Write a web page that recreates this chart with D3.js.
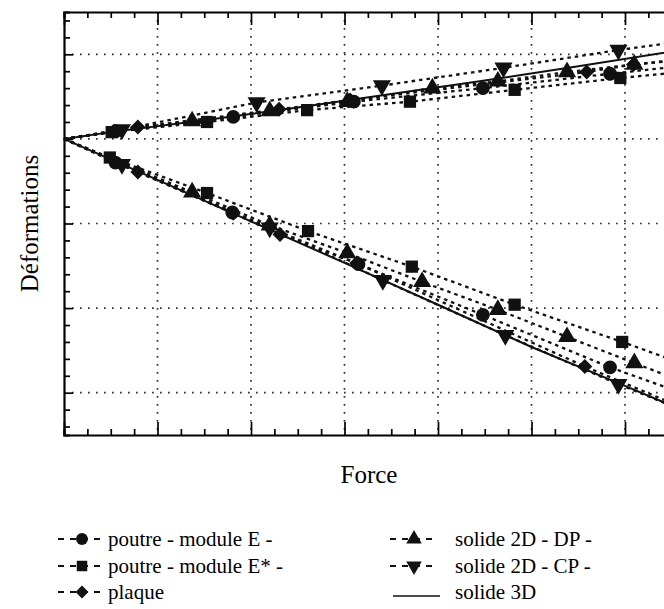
<!DOCTYPE html>
<html>
<head>
<meta charset="utf-8">
<script src="https://cdn.jsdelivr.net/npm/d3@7"></script>
<style>
  body { margin: 0; background: #fff; }
  svg { display: block; }
</style>
</head>
<body>
<svg></svg>
<script>
const width = 664;
const height = 609;

// [force, deformation] - upper branch (haut) and lower branch (bas)
const poutreE_haut = [[0,0],[0.55,0.09],[1.81,0.26],[3.1,0.44],[4.48,0.6],[5.84,0.77],[6.6,0.86]];
const poutreE_bas  = [[0,0],[0.55,-0.28],[1.8,-0.87],[3.15,-1.48],[4.48,-2.08],[5.84,-2.7],[6.6,-3.0]];

const poutreEs_haut = [[0,0],[0.51,0.08],[1.53,0.2],[2.6,0.34],[3.7,0.44],[4.82,0.58],[5.95,0.72],[6.6,0.79]];
const poutreEs_bas  = [[0,0],[0.49,-0.22],[1.53,-0.64],[2.61,-1.09],[3.72,-1.51],[4.82,-1.96],[5.97,-2.4],[6.6,-2.65]];

const plaque_haut = [[0,0],[0.79,0.14],[2.3,0.35],[3.06,0.46],[5.59,0.79],[6.09,0.88],[6.6,0.94]];
const plaque_bas  = [[0,0],[0.79,-0.39],[1.81,-0.88],[2.31,-1.13],[3.13,-1.47],[5.57,-2.69],[6.6,-3.17]];

const dp_haut = [[0,0],[1.37,0.21],[2.2,0.33],[3.03,0.44],[3.94,0.6],[4.64,0.68],[5.38,0.79],[6.1,0.88],[6.6,0.93]];
const dp_bas  = [[0,0],[1.37,-0.63],[2.2,-1.02],[3.03,-1.35],[3.83,-1.69],[4.64,-2.02],[5.38,-2.34],[6.1,-2.65],[6.6,-2.86]];

const cp_haut = [[0,0],[0.62,0.11],[2.06,0.43],[3.4,0.63],[4.7,0.84],[5.93,1.05],[6.6,1.15]];
const cp_bas  = [[0,0],[0.62,-0.3],[2.2,-1.05],[3.41,-1.67],[4.72,-2.32],[5.93,-2.9],[6.6,-3.2]];

const solide3D_haut = [[0,0],[0.5,0.08],[1.5,0.22],[2.5,0.37],[3.5,0.53],[4.5,0.69],[5.5,0.86],[6.6,1.05]];
const solide3D_bas  = [[0,0],[1,-0.485],[2,-0.975],[3,-1.465],[4,-1.96],[5,-2.46],[6,-2.92],[6.6,-3.2]];

const series = [
  { label: "poutre - module E -",  symbol: "circle",   dashed: true,  haut: poutreE_haut,  bas: poutreE_bas },
  { label: "poutre - module E* -", symbol: "square",   dashed: true,  haut: poutreEs_haut, bas: poutreEs_bas },
  { label: "plaque",               symbol: "diamond",  dashed: true,  haut: plaque_haut,   bas: plaque_bas },
  { label: "solide 2D - DP -",     symbol: "triUp",    dashed: true,  haut: dp_haut,       bas: dp_bas },
  { label: "solide 2D - CP -",     symbol: "triDown",  dashed: true,  haut: cp_haut,       bas: cp_bas },
  { label: "solide 3D",            symbol: null,       dashed: false, haut: solide3D_haut, bas: solide3D_bas }
];

const margin = { left: 64, top: 12, bottom: 435 };
const x = d3.scaleLinear().domain([0, 7]).range([margin.left, margin.left + 7 * 93.5]);
const y = d3.scaleLinear().domain([-3.5, 1.5]).range([margin.bottom, margin.top]);

const svg = d3.select('svg')
  .attr('width', width)
  .attr('height', height);

const serif = "'Liberation Serif', 'DejaVu Serif', serif";

// grid
const grid = svg.append('g').attr('stroke', '#333').attr('stroke-width', 1.7)
  .attr('stroke-dasharray', '1.7,6.3');
grid.selectAll('line.v').data(d3.range(1, 7)).enter().append('line')
  .attr('x1', d => x(d)).attr('x2', d => x(d))
  .attr('y1', y(1.5)).attr('y2', y(-3.5));
grid.selectAll('line.h').data(d3.range(-3, 2)).enter().append('line')
  .attr('y1', d => y(d)).attr('y2', d => y(d))
  .attr('x1', x(0)).attr('x2', x(7));

// axes with inner ticks
const xMinor = d3.range(0, 7.001, 0.25);
const yMinor = d3.range(-3.4, 1.5, 0.2);
const isMajor = v => Math.abs(v - Math.round(v)) < 1e-6;

svg.append('g').attr('transform', `translate(0,${y(-3.5)})`)
  .call(d3.axisBottom(x).tickValues(xMinor).tickSize(-6).tickFormat(''))
  .call(g => g.selectAll('.tick line').attr('y2', d => isMajor(d) ? -13 : -6));
svg.append('g').attr('transform', `translate(0,${y(1.5)})`)
  .call(d3.axisTop(x).tickValues(xMinor).tickSize(-6).tickFormat(''))
  .call(g => g.selectAll('.tick line').attr('y2', d => isMajor(d) ? 13 : 6));
svg.append('g').attr('transform', `translate(${x(0)},0)`)
  .call(d3.axisLeft(y).tickValues(yMinor).tickSize(-6).tickFormat(''))
  .call(g => g.selectAll('.tick line').attr('x2', d => isMajor(d) ? 9 : 6));
svg.append('g').attr('transform', `translate(${x(7)},0)`)
  .call(d3.axisRight(y).tickValues(yMinor).tickSize(-6).tickFormat(''));
svg.selectAll('.domain').attr('stroke-width', 2.2);
svg.selectAll('.tick line').attr('stroke-width', 1.7);

// curves
const line = d3.line().x(d => x(d[0])).y(d => y(d[1]));

function symbolPath(kind, size) {
  if (kind === 'circle') return d3.symbol(d3.symbolCircle, size)();
  if (kind === 'square') return d3.symbol(d3.symbolSquare, size)();
  if (kind === 'diamond') return d3.symbol(d3.symbolSquare, size * 0.75)();
  return d3.symbol(d3.symbolTriangle, size * 0.95)();
}
function symbolRotate(kind) {
  if (kind === 'diamond') return 45;
  if (kind === 'triDown') return 180;
  return 0;
}

const plot = svg.append('g');
series.forEach(s => {
  [s.haut, s.bas].forEach(pts => {
    plot.append('path')
      .attr('d', line(pts))
      .attr('fill', 'none')
      .attr('stroke', '#111')
      .attr('stroke-width', s.dashed ? 2.3 : 2)
      .attr('stroke-dasharray', s.dashed ? '3.5,4' : null);
  });
});
series.filter(s => s.symbol).forEach(s => {
  plot.selectAll(null)
    .data(s.haut.slice(1).concat(s.bas.slice(1)))
    .enter().append('path')
      .attr('d', symbolPath(s.symbol, 150))
      .attr('transform', d => `translate(${x(d[0])},${y(d[1])}) rotate(${symbolRotate(s.symbol)})`)
      .attr('fill', '#111');
});

// axis titles
svg.append('text')
  .attr('transform', `translate(38,${(y(1.5) + y(-3.5)) / 2}) rotate(-90)`)
  .attr('text-anchor', 'middle')
  .attr('font-family', serif)
  .attr('font-size', 25)
  .text('Déformations');
svg.append('text')
  .attr('x', 369).attr('y', 483)
  .attr('text-anchor', 'middle')
  .attr('font-family', serif)
  .attr('font-size', 25)
  .text('Force');

// legend
const legendCols = [58, 390];
const legendRows = [539, 566, 592];
const legend = svg.append('g');
series.forEach((s, i) => {
  const lx = legendCols[Math.floor(i / 3)];
  const ly = legendRows[i % 3];
  const g = legend.append('g').attr('transform', `translate(${lx},${ly})`);
  if (s.dashed) {
    g.append('line').attr('x1', 0).attr('x2', 45).attr('y1', 0).attr('y2', 0)
      .attr('stroke', '#111').attr('stroke-width', 2).attr('stroke-dasharray', '6,6');
    g.append('path')
      .attr('d', symbolPath(s.symbol, 110))
      .attr('transform', `translate(24,0) rotate(${symbolRotate(s.symbol)})`)
      .attr('fill', '#111');
  } else {
    g.append('line').attr('x1', 3).attr('x2', 50).attr('y1', 4).attr('y2', 4)
      .attr('stroke', '#111').attr('stroke-width', 1.5);
  }
  g.append('text')
    .attr('x', lx === legendCols[0] ? 50 : 65)
    .attr('y', 7)
    .attr('font-family', serif)
    .attr('font-size', 21)
    .text(s.label);
});
</script>
</body>
</html>
